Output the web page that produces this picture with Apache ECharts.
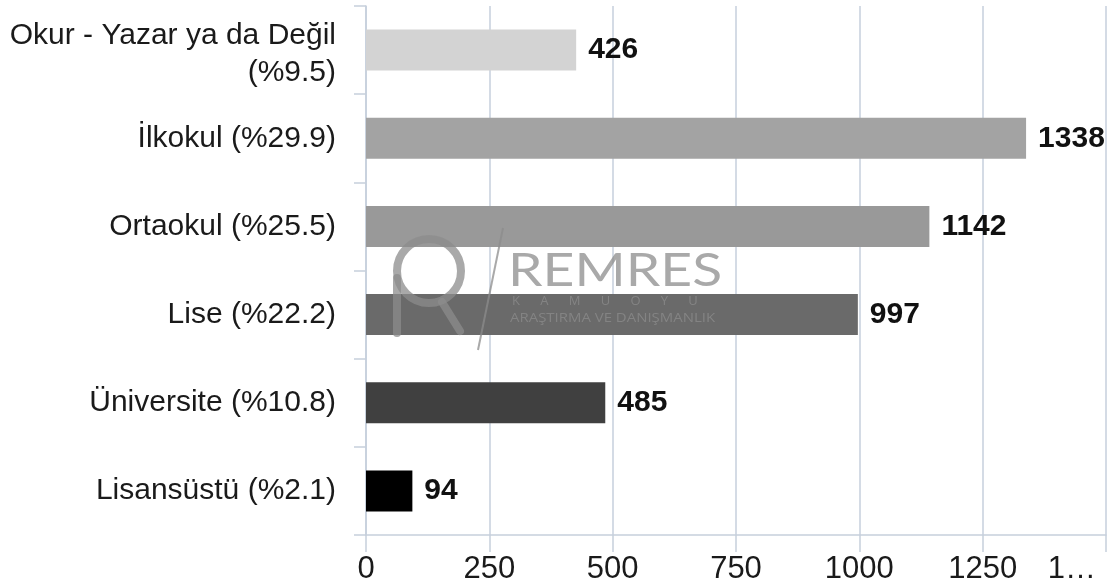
<!DOCTYPE html>
<html>
<head>
<meta charset="utf-8">
<script src="https://cdn.jsdelivr.net/npm/echarts@6/dist/echarts.min.js"></script>
<style>html,body{margin:0;padding:0;background:#fff}#c{width:1114px;height:587px}</style>
</head>
<body>
<div id="c"></div>
<script>
const categories = ['Okur - Yazar ya da Değil', 'İlkokul', 'Ortaokul', 'Lise', 'Üniversite', 'Lisansüstü'];
const percents = [9.5, 29.9, 25.5, 22.2, 10.8, 2.1];
const values = [426, 1338, 1142, 997, 485, 94];
const barColors = ['#d3d3d3', '#a3a3a3', '#999999', '#6a6a6a', '#404040', '#000000'];
const xTicks = [0, 250, 500, 750, 1000, 1250, 1500];

const FONT = 'Liberation Sans, Arial, sans-serif';
const AX = '#c6cfdc';
const WM = 'rgba(140,140,140,0.75)';
const LABEL_SIZE = 30;

// wrap the percentage onto a new line when the label is too wide for the label area
const mctx = document.createElement('canvas').getContext('2d');
mctx.font = LABEL_SIZE + 'px ' + FONT;
const labels = categories.map((c, i) => {
  const full = c + ' (%' + percents[i] + ')';
  return mctx.measureText(full).width > 335 ? c + '\n(%' + percents[i] + ')' : full;
});

const chart = echarts.init(document.getElementById('c'), null, {renderer: 'canvas'});
chart.setOption({
  animation: false,
  textStyle: {fontFamily: FONT},
  grid: {left: 366, right: 8, top: 6, bottom: 52, containLabel: false, outerBoundsMode: 'none'},
  xAxis: {
    type: 'value', min: xTicks[0], max: xTicks[xTicks.length - 1], interval: xTicks[1] - xTicks[0],
    axisLine: {show: true, lineStyle: {color: AX, width: 1.5}},
    axisTick: {show: true, length: 17, lineStyle: {color: AX, width: 1.5}},
    splitLine: {show: true, lineStyle: {color: AX, width: 1.5}},
    axisLabel: {
      fontSize: 31, color: '#1a1a1a', margin: 19, fontFamily: FONT,
      alignMaxLabel: 'right',
      formatter: v => v === xTicks[xTicks.length - 1] ? '{m|' + String(v).charAt(0) + '…}' : String(v),
      rich: {m: {fontSize: 31, color: '#1a1a1a', fontFamily: FONT, padding: [0, 10, 0, 0]}}
    }
  },
  yAxis: {
    type: 'category', inverse: true, data: labels,
    axisLine: {show: true, lineStyle: {color: AX, width: 1.5}},
    axisTick: {show: true, length: 12, lineStyle: {color: AX, width: 1.5}},
    splitLine: {show: false},
    axisLabel: {
      fontSize: LABEL_SIZE, color: '#1a1a1a', margin: 30, fontFamily: FONT, lineHeight: 38,
      formatter: v => {
        const parts = v.split('\n');
        if (parts.length === 1) return v;
        return '{t|' + parts[0] + '}\n{b|' + parts[1] + '}';
      },
      rich: {
        t: {fontSize: LABEL_SIZE, color: '#1a1a1a', fontFamily: FONT, lineHeight: 38, padding: [10, 0, 0, 0]},
        b: {fontSize: LABEL_SIZE, color: '#1a1a1a', fontFamily: FONT, lineHeight: 38, padding: [8, 0, 0, 0]}
      }
    }
  },
  series: [{
    type: 'bar',
    barWidth: 41,
    data: values.map((v, i) => ({value: v, itemStyle: {color: barColors[i]}})),
    label: {show: true, position: 'right', distance: 12, fontSize: 30, fontWeight: 'bold', color: '#111', fontFamily: FONT},
    z: 2
  }],
  graphic: {
    elements: [
      {type: 'circle', z: 100, silent: true, shape: {cx: 429, cy: 271, r: 32}, style: {fill: 'none', stroke: WM, lineWidth: 8}},
      {type: 'line', z: 100, silent: true, shape: {x1: 397, y1: 278, x2: 397, y2: 333}, style: {stroke: WM, lineWidth: 8, lineCap: 'round'}},
      {type: 'line', z: 100, silent: true, shape: {x1: 442, y1: 302, x2: 460, y2: 331}, style: {stroke: WM, lineWidth: 8, lineCap: 'round'}},
      {type: 'line', z: 100, silent: true, shape: {x1: 503, y1: 228, x2: 478, y2: 350}, style: {stroke: WM, lineWidth: 2}},
      {type: 'text', z: 100, silent: true, x: 508, y: 248, scaleX: 1.2, style: {text: 'REMRES', fontSize: 46, fontFamily: 'Lato, Open Sans, sans-serif', fill: WM}},
      {type: 'text', z: 100, silent: true, x: 512, y: 295, style: {text: 'K      A      M      U      O      Y      U', fontSize: 13, fontFamily: 'Open Sans, sans-serif', fill: WM}},
      {type: 'text', z: 100, silent: true, x: 510, y: 312, scaleX: 1.15, style: {text: 'ARAŞTIRMA VE DANIŞMANLIK', fontSize: 13, fontFamily: 'Open Sans, sans-serif', fill: WM}}
    ]
  }
});
</script>
</body>
</html>
